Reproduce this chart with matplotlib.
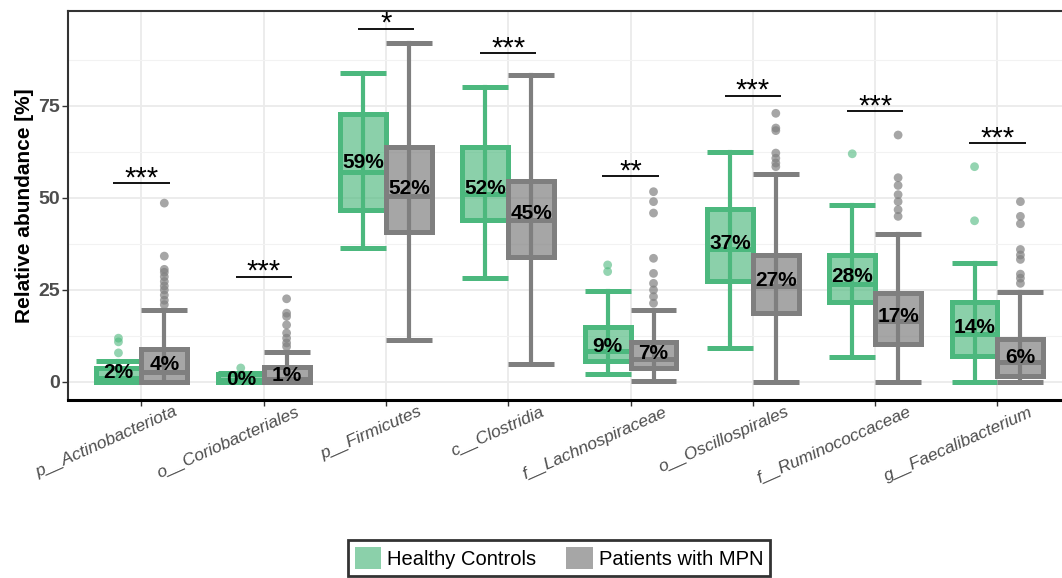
import numpy as np
import matplotlib
matplotlib.use("Agg")
import matplotlib.pyplot as plt
import matplotlib.transforms as mtransforms
from matplotlib.patches import Patch

plt.rcParams['font.family'] = ['Liberation Sans', 'DejaVu Sans']

# taxa on the x axis
taxa = ['p__Actinobacteriota', 'o__Coriobacteriales', 'p__Firmicutes', 'c__Clostridia',
        'f__Lachnospiraceae', 'o__Oscillospirales', 'f__Ruminococcaceae', 'g__Faecalibacterium']

# Healthy controls: box statistics (relative abundance, %)
hc_whislo = [0.0, 0.0, 36.4, 28.3, 2.2, 9.2, 6.9, 0.0]
hc_q1 = [0.0, 0.0, 46.7, 44.0, 5.7, 27.4, 21.6, 7.1]
hc_med = [1.2, 0.4, 57.0, 51.0, 8.5, 36.0, 26.5, 13.0]
hc_q3 = [3.9, 2.2, 72.8, 63.9, 15.0, 47.0, 34.5, 21.6]
hc_whishi = [5.8, 2.5, 84.0, 80.2, 24.7, 62.6, 48.0, 32.3]
hc_label = [2, 0, 59, 52, 9, 37, 28, 14]
hc_out = [[7.9, 10.9, 11.9], [3.8], [], [], [30.0, 31.8], [], [62.0], [43.8, 58.5]]

# Patients with MPN
pt_whislo = [0.0, 0.0, 11.4, 4.9, 0.2, 0.0, 0.0, 0.0]
pt_q1 = [0.1, 0.0, 40.8, 34.0, 3.8, 18.7, 10.2, 1.7]
pt_med = [2.8, 0.8, 50.5, 44.0, 6.2, 26.0, 16.5, 5.5]
pt_q3 = [9.0, 4.2, 63.9, 54.6, 10.8, 34.5, 24.1, 11.6]
pt_whishi = [19.5, 8.1, 92.1, 83.4, 19.6, 56.5, 40.1, 24.5]
pt_label = [4, 1, 52, 45, 7, 27, 17, 6]
pt_out = [[21.0, 22.2, 23.6, 25.0, 26.1, 27.3, 28.6, 29.8, 30.6, 34.2, 48.6],
          [9.6, 10.6, 11.9, 13.3, 15.5, 17.8, 18.7, 22.6],
          [], [],
          [21.4, 23.2, 25.0, 26.8, 29.5, 33.6, 45.9, 49.0, 51.7],
          [58.5, 59.5, 60.8, 62.2, 68.3, 69.0, 73.0],
          [45.0, 46.8, 49.0, 50.9, 53.4, 55.5, 67.1],
          [26.8, 28.2, 29.3, 33.3, 34.5, 36.0, 43.0, 45.0, 49.0]]

# significance brackets
sig_y = [54.0, 28.6, 96.0, 89.3, 56.0, 77.8, 73.5, 65.0]
sig_lab = ['***', '***', '*', '***', '**', '***', '***', '***']

groups = ['Healthy Controls', 'Patients with MPN']
edge_cols = ['#4cb87e', '#7f7f7f']
fill_cols = [(0.30, 0.72, 0.49, 0.65), (0.50, 0.50, 0.50, 0.7)]
out_cols = [(0.30, 0.72, 0.49, 0.6), (0.50, 0.50, 0.50, 0.7)]

fig = plt.figure(figsize=(10.62, 5.78), dpi=100)
ax = fig.add_axes([68 / 1062, 1 - 400 / 578, 8.2 * 122.3 / 1062, 389 / 578])

x = np.arange(1, len(taxa) + 1)
width = 0.375
offsets = [-0.1875, 0.1875]

data = [
    (hc_whislo, hc_q1, hc_med, hc_q3, hc_whishi, hc_label, hc_out),
    (pt_whislo, pt_q1, pt_med, pt_q3, pt_whishi, pt_label, pt_out),
]

for g, (wlo, q1, med, q3, whi, lab, outl) in enumerate(data):
    pos = x + offsets[g]
    stats = []
    for i in range(len(taxa)):
        stats.append({'whislo': wlo[i], 'q1': q1[i], 'med': med[i], 'q3': q3[i],
                      'whishi': whi[i], 'fliers': []})
    # whisker line running through the box (visible behind the translucent fill)
    ax.vlines(pos, q1, q3, color=edge_cols[g], lw=3.0, zorder=2)
    ax.bxp(stats, positions=pos, widths=width, capwidths=width, patch_artist=True,
           showfliers=False, manage_ticks=False,
           boxprops=dict(facecolor=fill_cols[g], edgecolor=edge_cols[g], lw=3.6, zorder=3),
           medianprops=dict(color=edge_cols[g], lw=3.6, zorder=3, solid_capstyle='butt'),
           whiskerprops=dict(color=edge_cols[g], lw=3.0, zorder=2),
           capprops=dict(color=edge_cols[g], lw=3.6, zorder=2, solid_capstyle='butt'))
    for i in range(len(taxa)):
        if outl[i]:
            ax.scatter(np.full(len(outl[i]), pos[i]), outl[i], s=40, color=out_cols[g],
                       edgecolors='none', zorder=2)
        ax.text(pos[i], lab[i] + 0.7, f"{lab[i]}%", ha='center', va='center',
                fontsize=15, fontweight='bold', color='black', zorder=5)

# significance bars
for i in range(len(taxa)):
    ax.hlines(sig_y[i], x[i] - 0.23, x[i] + 0.23, color='black', lw=1.3, zorder=4)
    ax.text(x[i], sig_y[i] - 0.9, sig_lab[i], ha='center', va='baseline',
            fontsize=21, color='black', zorder=4)

ax.set_xlim(0.4, 8.6)
ax.set_ylim(-4.9, 100.8)
ax.set_yticks([0, 25, 50, 75])
ax.set_yticks([12.5, 37.5, 62.5, 87.5], minor=True)
ax.set_xticks(x)
ax.set_axisbelow(True)
ax.grid(which='major', color='#ebebeb', lw=1.3)
ax.grid(which='minor', axis='y', color='#f2f2f2', lw=0.8)
ax.tick_params(axis='y', which='minor', length=0)
ax.tick_params(axis='both', which='major', length=4, width=1.0, color='#333333', pad=2)

ax.set_yticklabels(['0', '25', '50', '75'], fontsize=14, fontweight='bold', color='#4d4d4d')
offset = mtransforms.ScaledTranslation(0.32, 0.04, fig.dpi_scale_trans)
ax.set_xticklabels(taxa, rotation=24, ha='right', rotation_mode='anchor',
                   fontsize=12.5, style='italic', color='#4d4d4d')
for t in ax.get_xticklabels():
    t.set_transform(t.get_transform() + offset)

ax.set_ylabel('Relative abundance [%]', fontsize=15, fontweight='bold', labelpad=3)

for side in ['left', 'top']:
    ax.spines[side].set_color('#333333')
    ax.spines[side].set_linewidth(1.5)
ax.spines['bottom'].set_color('black')
ax.spines['bottom'].set_linewidth(2.2)
ax.spines['right'].set_visible(False)

handles = [Patch(facecolor=fill_cols[k], edgecolor='none', label=groups[k]) for k in range(2)]
leg = fig.legend(handles=handles, loc='upper center', bbox_to_anchor=(559 / 1062, 1 - 540 / 578),
                 ncol=2, fontsize=14.5, frameon=True, fancybox=False, edgecolor='black',
                 handlelength=1.3, handleheight=1.3, handletextpad=0.3, columnspacing=1.5,
                 borderpad=0.35, borderaxespad=0)
leg.get_frame().set_linewidth(2.0)

fig.savefig('out.png', dpi=100)
